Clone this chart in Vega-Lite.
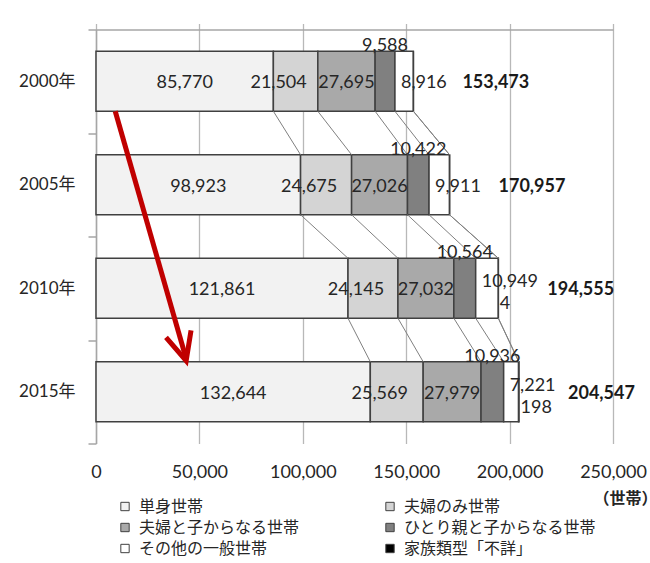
{
  "$schema": "https://vega.github.io/schema/vega-lite/v6.json",
  "width": 517,
  "height": 414,
  "autosize": "none",
  "padding": {"left": 96, "top": 29.5, "right": 37, "bottom": 119.5},
  "background": "white",
  "config": {
    "view": {"stroke": null},
    "font": "Lato, Noto Sans CJK JP",
    "axis": {"labelColor": "#262626", "labelFont": "Lato, Noto Sans CJK JP"},
    "legend": {"labelColor": "#262626"}
  },
  "resolve": {"axis": {"x": "independent"}},
  "datasets": {
    "households": [
      {"year": "2000年", "cat": "単身世帯", "value": 85770},
      {"year": "2000年", "cat": "夫婦のみ世帯", "value": 21504},
      {"year": "2000年", "cat": "夫婦と子からなる世帯", "value": 27695},
      {"year": "2000年", "cat": "ひとり親と子からなる世帯", "value": 9588},
      {"year": "2000年", "cat": "その他の一般世帯", "value": 8916},
      {"year": "2000年", "cat": "家族類型「不詳」", "value": 0},
      {"year": "2005年", "cat": "単身世帯", "value": 98923},
      {"year": "2005年", "cat": "夫婦のみ世帯", "value": 24675},
      {"year": "2005年", "cat": "夫婦と子からなる世帯", "value": 27026},
      {"year": "2005年", "cat": "ひとり親と子からなる世帯", "value": 10422},
      {"year": "2005年", "cat": "その他の一般世帯", "value": 9911},
      {"year": "2005年", "cat": "家族類型「不詳」", "value": 0},
      {"year": "2010年", "cat": "単身世帯", "value": 121861},
      {"year": "2010年", "cat": "夫婦のみ世帯", "value": 24145},
      {"year": "2010年", "cat": "夫婦と子からなる世帯", "value": 27032},
      {"year": "2010年", "cat": "ひとり親と子からなる世帯", "value": 10564},
      {"year": "2010年", "cat": "その他の一般世帯", "value": 10949},
      {"year": "2010年", "cat": "家族類型「不詳」", "value": 4},
      {"year": "2015年", "cat": "単身世帯", "value": 132644},
      {"year": "2015年", "cat": "夫婦のみ世帯", "value": 25569},
      {"year": "2015年", "cat": "夫婦と子からなる世帯", "value": 27979},
      {"year": "2015年", "cat": "ひとり親と子からなる世帯", "value": 10936},
      {"year": "2015年", "cat": "その他の一般世帯", "value": 7221},
      {"year": "2015年", "cat": "家族類型「不詳」", "value": 198}
    ],
    "arrow": [
      {"xs": 9300, "xe": 43600, "from": "2000年", "to": "2015年"}
    ]
  },
  "data": {"name": "households"},
  "transform": [
    {"calculate": "indexof(['単身世帯','夫婦のみ世帯','夫婦と子からなる世帯','ひとり親と子からなる世帯','その他の一般世帯','家族類型「不詳」'], datum.cat)", "as": "idx"},
    {"stack": "value", "groupby": ["year"], "sort": [{"field": "idx", "order": "ascending"}], "as": ["x0", "x1"]},
    {"calculate": "(datum.x0 + datum.x1) / 2", "as": "mid"}
  ],
  "encoding": {
    "y": {
      "field": "year",
      "type": "nominal",
      "sort": ["2000年", "2005年", "2010年", "2015年"],
      "scale": {"domain": ["2000年", "2005年", "2010年", "2015年"], "paddingInner": 0, "paddingOuter": 0},
      "axis": {
        "title": null,
        "domainColor": "#a6a6a6",
        "domainWidth": 1.5,
        "tickColor": "#a6a6a6",
        "tickWidth": 1.5,
        "tickSize": 8,
        "tickBand": "extent",
        "labelFontSize": 17,
        "labelPadding": 13,
        "grid": false
      }
    }
  },
  "layer": [
    {
      "mark": {"type": "bar", "height": 60, "stroke": "#404040", "strokeWidth": 1.5},
      "encoding": {
        "x": {
          "field": "x0",
          "type": "quantitative",
          "scale": {"domain": [0, 250000], "nice": false},
          "axis": {
            "orient": "bottom",
            "title": "（世帯）",
            "titleFont": "Noto Sans CJK JP",
            "titleFontSize": 16,
            "titleFontWeight": "bold",
            "titleColor": "#262626",
            "titleX": 497,
            "titleY": 55,
            "titleAlign": "left",
            "titleBaseline": "middle",
            "values": [0, 50000, 100000, 150000, 200000, 250000],
            "format": ",d",
            "labelFontSize": 18,
            "labelPadding": 20,
            "labelFlush": false,
            "domain": false,
            "ticks": false,
            "grid": true,
            "gridColor": "#b8b8b8",
            "gridWidth": 1.3
          }
        },
        "x2": {"field": "x1"},
        "color": {
          "field": "cat",
          "type": "nominal",
          "scale": {
            "domain": ["単身世帯", "夫婦のみ世帯", "夫婦と子からなる世帯", "ひとり親と子からなる世帯", "その他の一般世帯", "家族類型「不詳」"],
            "range": ["#f2f2f2", "#d4d4d4", "#a9a9a9", "#808080", "#ffffff", "#000000"]
          },
          "legend": {
            "title": null,
            "orient": "none",
            "direction": "horizontal",
            "legendX": 21,
            "legendY": 469,
            "columns": 2,
            "columnPadding": 82,
            "rowPadding": 5,
            "padding": 0,
            "symbolType": "square",
            "symbolSize": 70,
            "symbolStrokeColor": "#404040",
            "symbolStrokeWidth": 1,
            "labelFont": "Noto Sans CJK JP",
            "labelFontSize": 16,
            "labelOffset": 6,
            "labelLimit": 300
          }
        }
      }
    },
    {
      "transform": [
        {"window": [{"op": "lead", "field": "x1", "as": "nx"}, {"op": "lead", "field": "year", "as": "ny"}], "groupby": ["cat"], "sort": [{"field": "year", "order": "ascending"}]},
        {"filter": "datum.ny != null"}
      ],
      "mark": {"type": "rule", "color": "#808080", "strokeWidth": 1, "yOffset": 30, "y2Offset": -30},
      "encoding": {
        "x": {"field": "x1", "type": "quantitative", "axis": null},
        "x2": {"field": "nx"},
        "y2": {"field": "ny"}
      }
    },
    {
      "transform": [{"filter": "datum.cat == '単身世帯' || datum.cat == '夫婦と子からなる世帯'"}],
      "mark": {"type": "text", "fontSize": 18, "color": "#262626", "baseline": "middle", "dy": 2},
      "encoding": {
        "x": {"field": "mid", "type": "quantitative", "axis": null},
        "text": {"field": "value", "type": "quantitative", "format": ","}
      }
    },
    {
      "transform": [{"filter": "datum.cat == '夫婦のみ世帯'"}],
      "mark": {"type": "text", "fontSize": 18, "color": "#262626", "baseline": "middle", "dy": 2, "dx": -17},
      "encoding": {
        "x": {"field": "mid", "type": "quantitative", "axis": null},
        "text": {"field": "value", "type": "quantitative", "format": ","}
      }
    },
    {
      "transform": [{"filter": "datum.cat == 'ひとり親と子からなる世帯'"}],
      "mark": {"type": "text", "fontSize": 18, "color": "#262626", "baseline": "alphabetic", "yOffset": -30},
      "encoding": {
        "x": {"field": "mid", "type": "quantitative", "axis": null},
        "text": {"field": "value", "type": "quantitative", "format": ","}
      }
    },
    {
      "transform": [{"filter": "datum.cat == 'その他の一般世帯' && (datum.year == '2000年' || datum.year == '2005年')"}],
      "mark": {"type": "text", "fontSize": 18, "color": "#262626", "baseline": "middle", "align": "left", "dx": 6, "dy": 2},
      "encoding": {
        "x": {"field": "x0", "type": "quantitative", "axis": null},
        "text": {"field": "value", "type": "quantitative", "format": ","}
      }
    },
    {
      "transform": [{"filter": "datum.cat == 'その他の一般世帯' && (datum.year == '2010年' || datum.year == '2015年')"}],
      "mark": {"type": "text", "fontSize": 18, "color": "#262626", "baseline": "middle", "align": "left", "dx": 6, "dy": -6},
      "encoding": {
        "x": {"field": "x0", "type": "quantitative", "axis": null},
        "text": {"field": "value", "type": "quantitative", "format": ","}
      }
    },
    {
      "transform": [{"filter": "datum.cat == '家族類型「不詳」' && datum.value > 0"}],
      "mark": {"type": "text", "fontSize": 18, "color": "#262626", "baseline": "middle", "align": "left", "dx": 1.5, "dy": 16},
      "encoding": {
        "x": {"field": "x1", "type": "quantitative", "axis": null},
        "text": {"field": "value", "type": "quantitative", "format": ","}
      }
    },
    {
      "transform": [{"aggregate": [{"op": "sum", "field": "value", "as": "total"}], "groupby": ["year"]}],
      "mark": {"type": "text", "fontSize": 18, "fontWeight": "bold", "color": "#1a1a1a", "baseline": "middle", "align": "left", "dx": 49, "dy": 2},
      "encoding": {
        "x": {"field": "total", "type": "quantitative", "axis": null},
        "text": {"field": "total", "type": "quantitative", "format": ","}
      }
    },
    {
      "data": {"name": "arrow"},
      "mark": {"type": "rule", "color": "#c00000", "strokeWidth": 5, "yOffset": 30, "y2Offset": -33},
      "encoding": {
        "x": {"field": "xs", "type": "quantitative", "axis": null},
        "x2": {"field": "xe"},
        "y": {"field": "from", "type": "nominal"},
        "y2": {"field": "to"}
      }
    },
    {
      "data": {"name": "arrow"},
      "mark": {
        "type": "point",
        "shape": "M -0.42 -0.9 L 0 0 L 0.42 -0.9",
        "filled": false,
        "stroke": "#c00000",
        "strokeWidth": 5,
        "strokeJoin": "miter",
        "opacity": 1,
        "size": 3844,
        "angle": 344.1,
        "yOffset": -31
      },
      "encoding": {
        "x": {"field": "xe", "type": "quantitative", "axis": null},
        "y": {"field": "to", "type": "nominal"}
      }
    },
    {
      "mark": {"type": "rule", "opacity": 0},
      "encoding": {
        "x": {
          "datum": 0,
          "type": "quantitative",
          "axis": {
            "orient": "top",
            "title": null,
            "labels": false,
            "grid": false,
            "values": [0, 50000, 100000, 150000, 200000, 250000],
            "domainColor": "#a6a6a6",
            "domainWidth": 1.5,
            "tickColor": "#b8b8b8",
            "tickWidth": 1.3,
            "tickSize": 6
          }
        }
      }
    }
  ]
}
